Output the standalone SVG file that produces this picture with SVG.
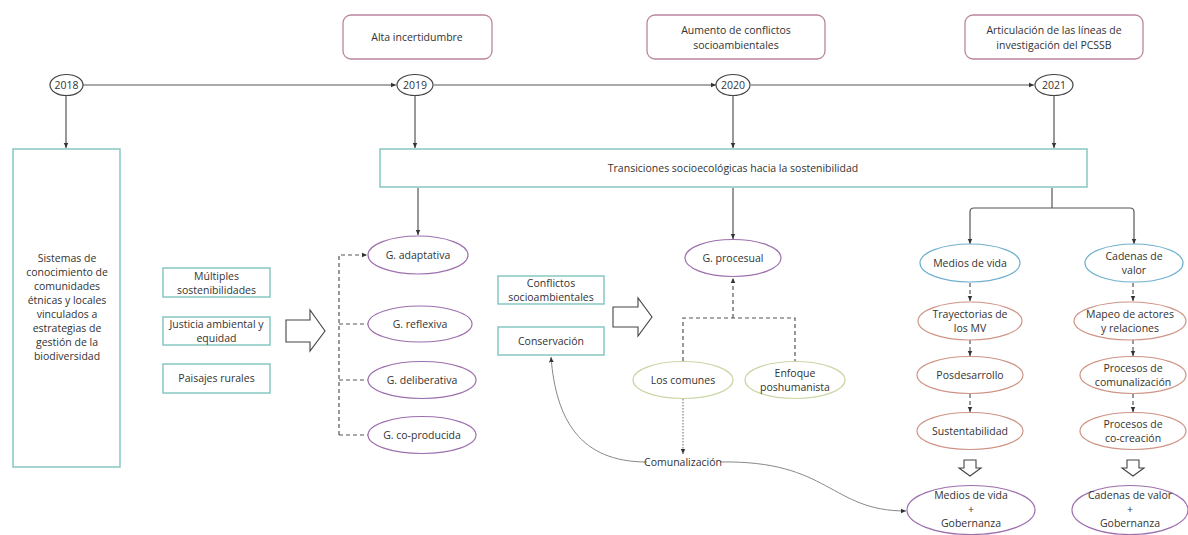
<svg xmlns="http://www.w3.org/2000/svg" width="1188" height="535" viewBox="0 0 1188 535">
<style>
text{font-family:"Open Sans","Noto Sans","Liberation Sans",sans-serif;font-size:10.5px;fill:#333;text-anchor:middle;dominant-baseline:central}
.pink{fill:#fff;stroke:#b9869f;stroke-width:1.3}
.teal{fill:#fff;stroke:#86c7c2;stroke-width:1.5}
.year{fill:#fff;stroke:#444;stroke-width:1.2}
.purple{fill:#fff;stroke:#9d6fae;stroke-width:1.2}
.blue{fill:#fff;stroke:#6fb0cf;stroke-width:1.2}
.orange{fill:#fff;stroke:#cf9485;stroke-width:1.2}
.green{fill:#fff;stroke:#c9d7a6;stroke-width:1.2}
.ln{fill:none;stroke:#555;stroke-width:1.2}
.dash{fill:none;stroke:#555;stroke-width:1.2;stroke-dasharray:4 3}
.dot{fill:none;stroke:#666;stroke-width:1;stroke-dasharray:1.5 1.5}
.curve{fill:none;stroke:#888;stroke-width:1}
.hollow{fill:#fff;stroke:#444;stroke-width:1.1}
</style>
<defs>
<marker id="ah" viewBox="0 0 10 10" refX="9" refY="5" markerWidth="6" markerHeight="6" orient="auto-start-reverse" markerUnits="userSpaceOnUse">
<path d="M0,1 L9,5 L0,9 z" fill="#333"/>
</marker>
</defs>
<rect width="1188" height="535" fill="#fff"/>

<g id="connectors">
<line class="ln" x1="83" y1="85" x2="396" y2="85" marker-end="url(#ah)"/>
<line class="ln" x1="434" y1="85" x2="716" y2="85" marker-end="url(#ah)"/>
<line class="ln" x1="751" y1="85" x2="1034" y2="85" marker-end="url(#ah)"/>
<line class="ln" x1="66" y1="96" x2="66" y2="148" marker-end="url(#ah)"/>
<line class="ln" x1="415" y1="96" x2="415" y2="148" marker-end="url(#ah)"/>
<line class="ln" x1="733" y1="96" x2="733" y2="148" marker-end="url(#ah)"/>
<line class="ln" x1="1054" y1="96" x2="1054" y2="148" marker-end="url(#ah)"/>
<line class="ln" x1="418" y1="188" x2="418" y2="235" marker-end="url(#ah)"/>
<line class="ln" x1="733" y1="188" x2="733" y2="239" marker-end="url(#ah)"/>
<path class="ln" d="M1052,188 V208"/>
<path class="ln" d="M1052,208 H974 Q970,208 970,212 V244" marker-end="url(#ah)"/>
<path class="ln" d="M1052,208 H1130 Q1134,208 1134,212 V244" marker-end="url(#ah)"/>
<path class="dash" d="M339,435 V255 H367" marker-end="url(#ah)"/>
<line class="dash" x1="339" y1="324" x2="368" y2="324"/>
<line class="dash" x1="339" y1="380" x2="368" y2="380"/>
<line class="dash" x1="339" y1="435" x2="368" y2="435"/>
<path class="dash" d="M683,361 V318 H795 V361"/>
<line class="dash" x1="733" y1="318" x2="733" y2="278" marker-end="url(#ah)"/>
<line class="dot" x1="683" y1="399" x2="683" y2="454" marker-end="url(#ah)"/>
<path class="curve" d="M647,462 C580,462 556,420 551,357" marker-end="url(#ah)"/>
<path class="curve" d="M720,462 C830,460 830,511 906,511" marker-end="url(#ah)"/>
<line class="dash" x1="970" y1="283" x2="970" y2="301" marker-end="url(#ah)"/>
<line class="dash" x1="970" y1="340" x2="970" y2="356" marker-end="url(#ah)"/>
<line class="dash" x1="970" y1="394" x2="970" y2="412" marker-end="url(#ah)"/>
<line class="dash" x1="1133" y1="283" x2="1133" y2="301" marker-end="url(#ah)"/>
<line class="dash" x1="1133" y1="340" x2="1133" y2="356" marker-end="url(#ah)"/>
<line class="dash" x1="1133" y1="394" x2="1133" y2="412" marker-end="url(#ah)"/>
<path class="hollow" d="M286,320 H310 V310 L325,331 L310,351 V342 H286 Z"/>
<path class="hollow" d="M613,307 H638 V298 L652,317 L638,336 V327 H613 Z"/>
<path class="hollow" d="M964,460 H976 V468 H981 L970,476 L959,468 H964 Z"/>
<path class="hollow" d="M1127,460 H1139 V468 H1144 L1133,476 L1122,468 H1127 Z"/>
</g>

<g id="n-alta"><rect class="pink" x="343" y="15" width="149" height="44" rx="8"/><text x="417" y="37">Alta incertidumbre</text></g>
<g id="n-aumento"><rect class="pink" x="647" y="15" width="178" height="44" rx="8"/><text x="736" y="30">Aumento de conflictos</text><text x="736" y="45">socioambientales</text></g>
<g id="n-articulacion"><rect class="pink" x="965" y="15" width="178" height="44" rx="8"/><text x="1054" y="30">Articulación de las líneas de</text><text x="1054" y="45">investigación del PCSSB</text></g>

<g id="n-2018"><ellipse class="year" cx="66.5" cy="85" rx="16.5" ry="10.5"/><text x="66.5" y="85">2018</text></g>
<g id="n-2019"><ellipse class="year" cx="415" cy="85" rx="18" ry="10.5"/><text x="415" y="85">2019</text></g>
<g id="n-2020"><ellipse class="year" cx="733" cy="85" rx="17" ry="10.5"/><text x="733" y="85">2020</text></g>
<g id="n-2021"><ellipse class="year" cx="1054" cy="85" rx="19" ry="10.5"/><text x="1054" y="85">2021</text></g>

<g id="n-sistemas"><rect class="teal" x="13" y="149" width="107" height="318"/>
<text x="67" y="258">Sistemas de</text><text x="67" y="272">conocimiento de</text><text x="67" y="286">comunidades</text><text x="67" y="300">étnicas y locales</text><text x="67" y="314">vinculados a</text><text x="67" y="328">estrategias de</text><text x="67" y="342">gestión de la</text><text x="67" y="356">biodiversidad</text></g>

<g id="n-transiciones"><rect class="teal" x="380" y="149" width="707" height="38"/><text x="733" y="168">Transiciones socioecológicas hacia la sostenibilidad</text></g>

<g id="n-multiples"><rect class="teal" x="163" y="268" width="107" height="29"/><text x="216.5" y="276">Múltiples</text><text x="216.5" y="290">sostenibilidades</text></g>
<g id="n-justicia"><rect class="teal" x="163" y="317" width="107" height="28"/><text x="216.5" y="324">Justicia ambiental y</text><text x="216.5" y="338">equidad</text></g>
<g id="n-paisajes"><rect class="teal" x="163" y="364" width="107" height="29"/><text x="216.5" y="378">Paisajes rurales</text></g>

<g id="n-adaptativa"><ellipse class="purple" cx="418" cy="255" rx="50" ry="19"/><text x="418" y="255">G. adaptativa</text></g>
<g id="n-reflexiva"><ellipse class="purple" cx="420" cy="324" rx="52" ry="18"/><text x="420" y="324">G. reflexiva</text></g>
<g id="n-deliberativa"><ellipse class="purple" cx="422" cy="380" rx="54" ry="18.5"/><text x="422" y="380">G. deliberativa</text></g>
<g id="n-coproducida"><ellipse class="purple" cx="422" cy="435" rx="54" ry="18.5"/><text x="422" y="435">G. co-producida</text></g>

<g id="n-conflictos"><rect class="teal" x="498" y="276" width="106" height="28"/><text x="551" y="283">Conflictos</text><text x="551" y="297">socioambientales</text></g>
<g id="n-conservacion"><rect class="teal" x="498" y="327" width="106" height="28"/><text x="551" y="341">Conservación</text></g>

<g id="n-procesual"><ellipse class="purple" cx="733" cy="258" rx="48" ry="18.5"/><text x="733" y="258">G. procesual</text></g>
<g id="n-comunes"><ellipse class="green" cx="683" cy="380" rx="50" ry="18.5"/><text x="683" y="380">Los comunes</text></g>
<g id="n-poshumanista"><ellipse class="green" cx="795" cy="380" rx="50" ry="18.5"/><text x="795" y="373">Enfoque</text><text x="795" y="387">poshumanista</text></g>
<g id="n-comunalizacion"><text x="683" y="462">Comunalización</text></g>

<g id="n-medios"><ellipse class="blue" cx="970" cy="263" rx="50" ry="19"/><text x="970" y="263">Medios de vida</text></g>
<g id="n-cadenas"><ellipse class="blue" cx="1134" cy="263" rx="49" ry="19"/><text x="1134" y="256">Cadenas de</text><text x="1134" y="270">valor</text></g>
<g id="n-trayectorias"><ellipse class="orange" cx="970" cy="321" rx="52" ry="19"/><text x="970" y="314">Trayectorias de</text><text x="970" y="328">los MV</text></g>
<g id="n-mapeo"><ellipse class="orange" cx="1130" cy="321" rx="56" ry="19"/><text x="1130" y="314">Mapeo de actores</text><text x="1130" y="328">y relaciones</text></g>
<g id="n-posdesarrollo"><ellipse class="orange" cx="970" cy="375" rx="53" ry="18.5"/><text x="970" y="375">Posdesarrollo</text></g>
<g id="n-proc-comunal"><ellipse class="orange" cx="1133" cy="375" rx="53" ry="18.5"/><text x="1133" y="368">Procesos de</text><text x="1133" y="382">comunalización</text></g>
<g id="n-sustentabilidad"><ellipse class="orange" cx="970" cy="431" rx="53" ry="18.5"/><text x="970" y="431">Sustentabilidad</text></g>
<g id="n-proc-cocreacion"><ellipse class="orange" cx="1133" cy="431" rx="53" ry="18.5"/><text x="1133" y="424">Procesos de</text><text x="1133" y="438">co-creación</text></g>
<g id="n-medios-gob"><ellipse class="purple" cx="971" cy="510" rx="64" ry="24.5"/><text x="971" y="495">Medios de vida</text><text x="971" y="509">+</text><text x="971" y="523">Gobernanza</text></g>
<g id="n-cadenas-gob"><ellipse class="purple" cx="1130" cy="510" rx="58" ry="24.5"/><text x="1130" y="495">Cadenas de valor</text><text x="1130" y="509">+</text><text x="1130" y="523">Gobernanza</text></g>
</svg>
